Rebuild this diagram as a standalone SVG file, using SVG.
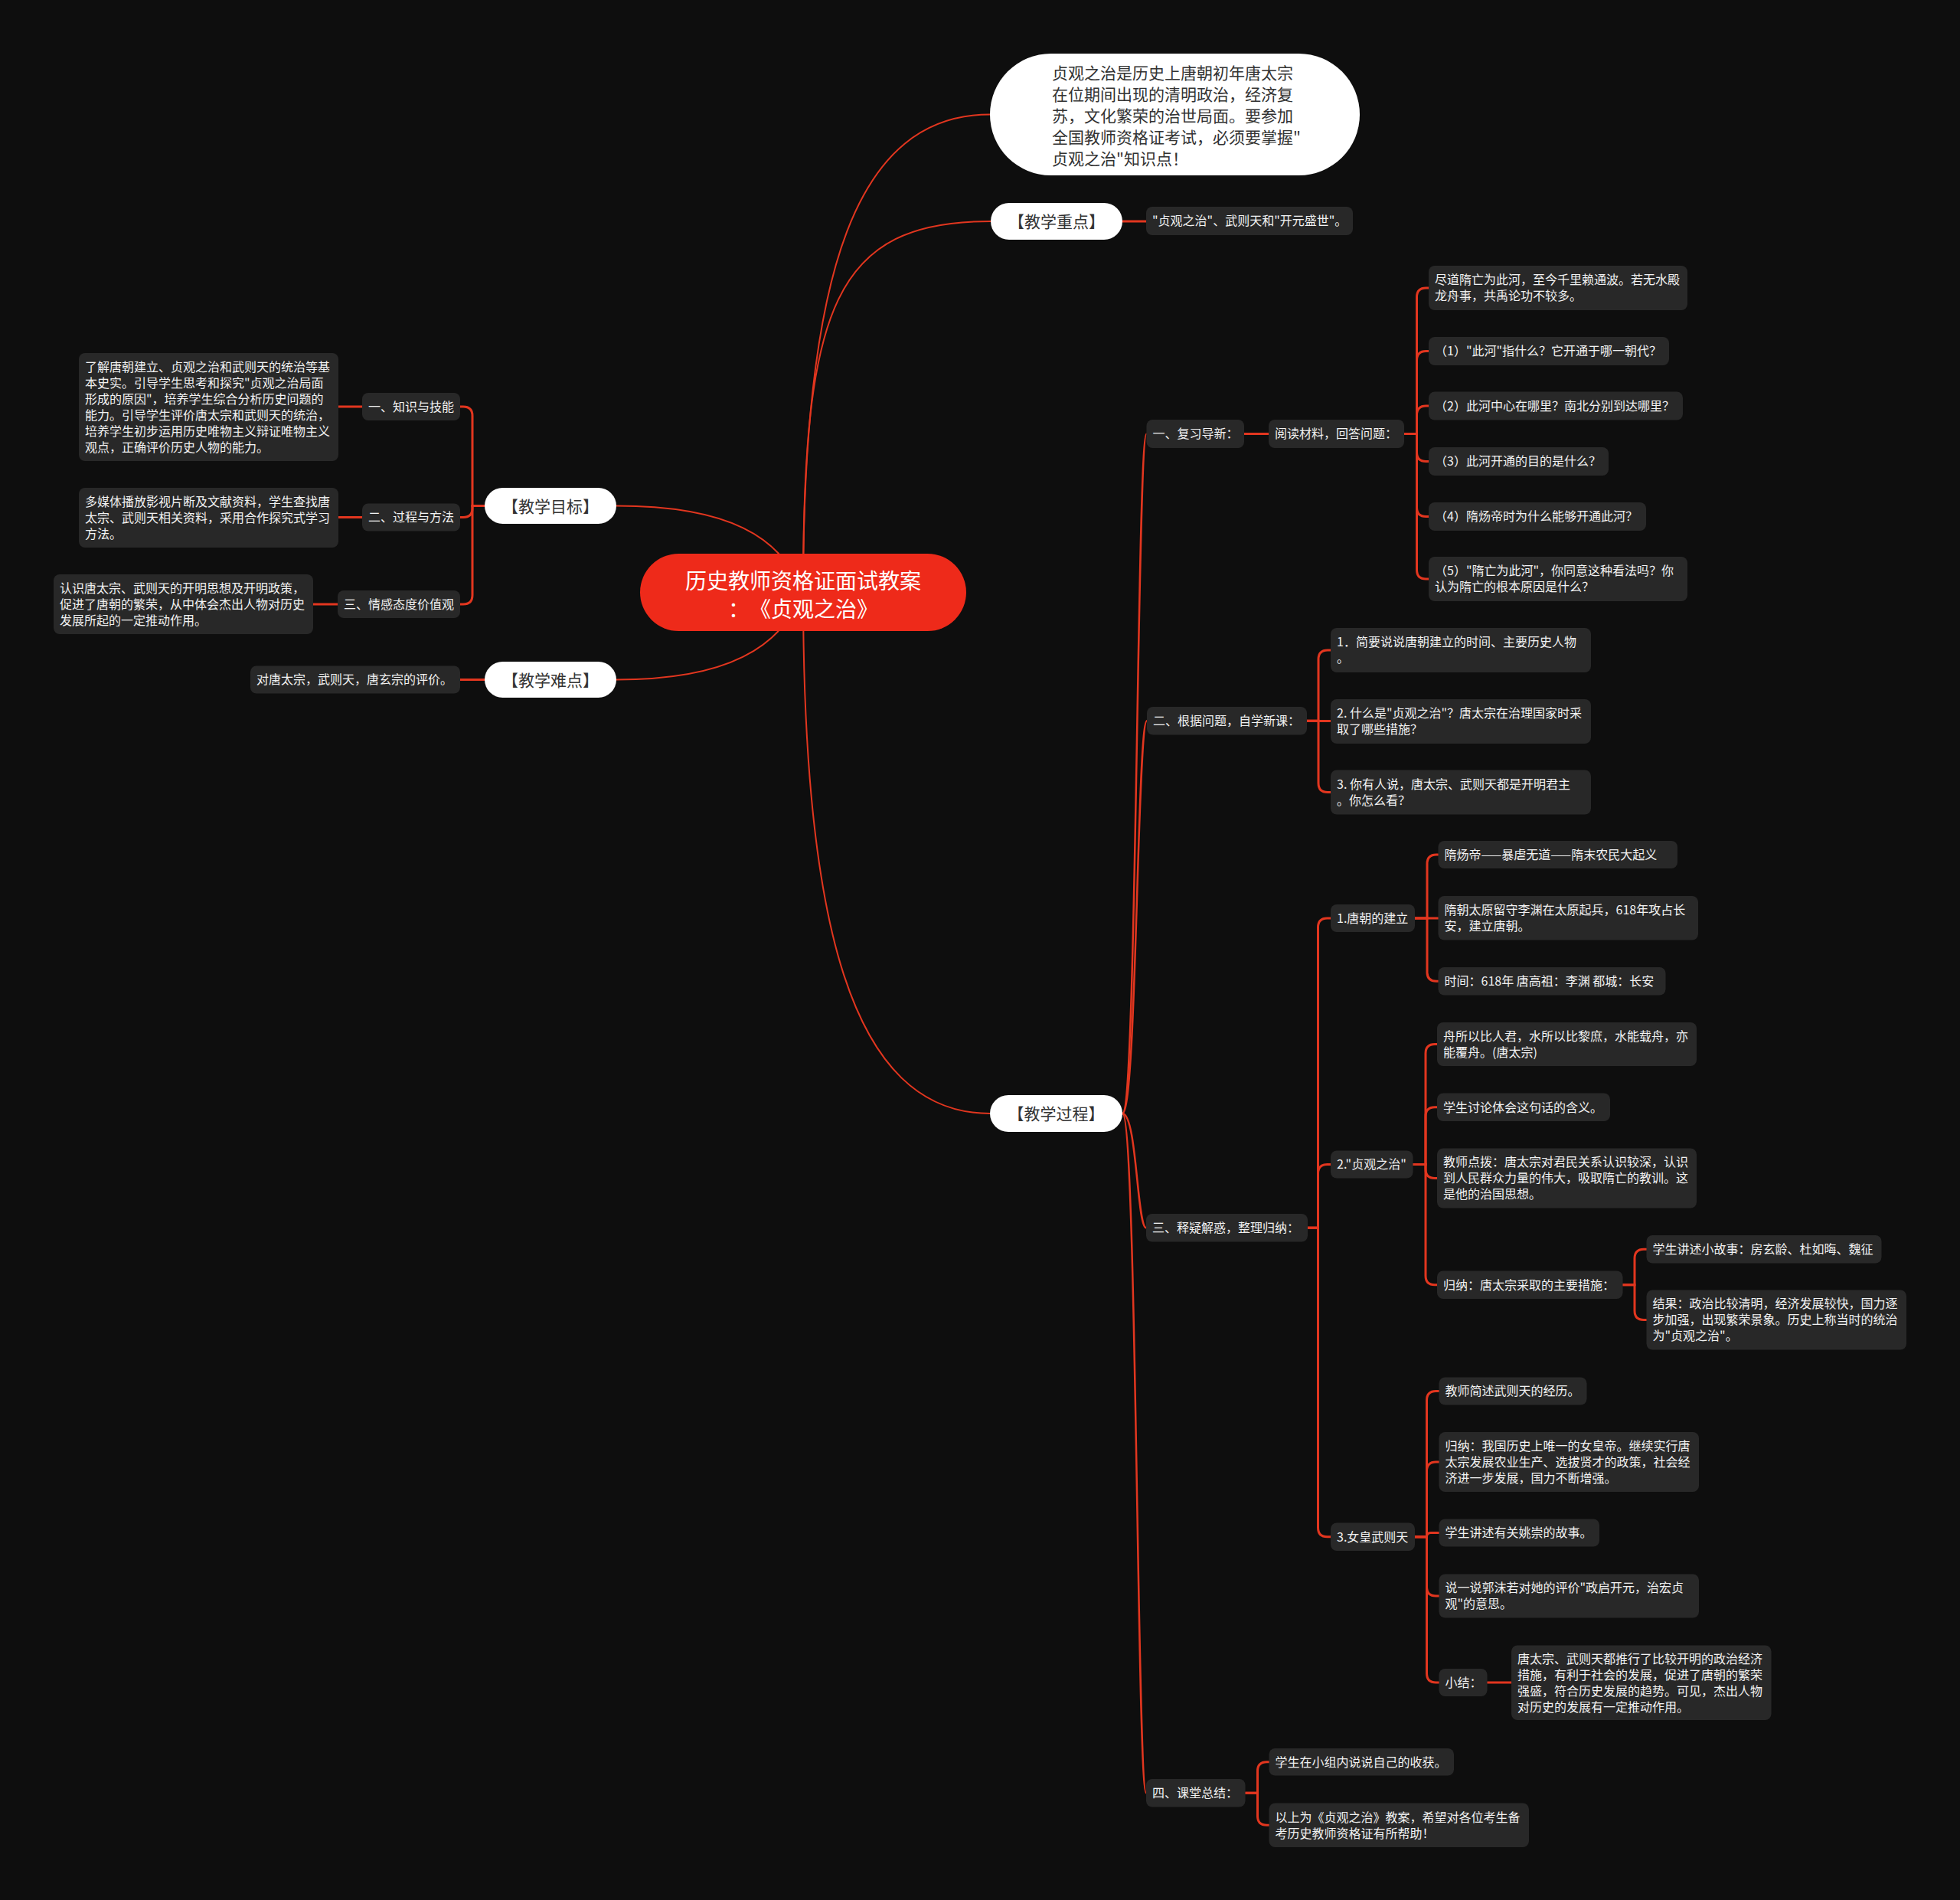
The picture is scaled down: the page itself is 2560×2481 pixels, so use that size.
<svg xmlns="http://www.w3.org/2000/svg" width="2560" height="2481" viewBox="0 0 2560 2481">
<style>
text{text-spacing-trim:space-all}
.bg{fill:#0e0e0e}
.box{fill:#282828}
.pill{fill:#ffffff}
.root{fill:#ee2a1a}
.t{font-family:"Noto Sans CJK SC","Noto Sans",sans-serif;font-size:16px;fill:#f2f2f2}
.pt{font-family:"Noto Sans CJK SC","Noto Sans",sans-serif;font-size:21px;fill:#333333}
.rt{font-family:"Noto Sans CJK SC","Noto Sans",sans-serif;font-size:28px;fill:#ffffff;text-anchor:middle}
.c{fill:none;stroke:#e2361f;stroke-width:3;stroke-linecap:round}
.c1{fill:none;stroke:#e2361f;stroke-width:2}
.c2{fill:none;stroke:#e2361f;stroke-width:2.5}
</style>
<rect class="bg" x="0" y="0" width="2560" height="2481"/>
<g id="connectors">
<path class="c1" d="M1049 773 C1049 350 1120 149.5 1293 149.5"/>
<path class="c1" d="M1049 773 C1049 400 1090 289 1294 289"/>
<path class="c1" d="M1049 773 C1049 1200 1110 1454 1293 1454"/>
<path class="c1" d="M1049 773 C1020 700 950 660.5 805 660.5"/>
<path class="c1" d="M1049 773 C1020 846 950 887.5 805 887.5"/>
<path class="c2" d="M1466 1454 C1485 1454 1485 566.5 1497.5 566.5"/>
<path class="c2" d="M1466 1454 C1485 1454 1485 941.25 1498 941.25"/>
<path class="c2" d="M1466 1454 C1485 1454 1485 1603.25 1497 1603.25"/>
<path class="c2" d="M1466 1454 C1485 1454 1485 2341.25 1497 2341.25"/>
<path class="c" d="M1466 289 H1497"/>
<path class="c" d="M1625 566.5 H1657"/>
<path class="c" d="M1942.5 2197 H1974"/>
<path class="c" d="M473 531 H442"/>
<path class="c" d="M473 675.5 H442"/>
<path class="c" d="M441 789 H409"/>
<path class="c" d="M633 887.5 H601"/>
<path class="c" d="M633 660.5 H617 V543 Q617 531 605 531 H601"/>
<path class="c" d="M633 660.5 H617 V663.5 Q617 675.5 605 675.5 H601"/>
<path class="c" d="M633 660.5 H617 V777 Q617 789 605 789 H601"/>
<path class="c" d="M1834 566.5 H1850.5 V388 Q1850.5 376 1862.5 376 H1866"/>
<path class="c" d="M1834 566.5 H1850.5 V470.5 Q1850.5 458.5 1862.5 458.5 H1866"/>
<path class="c" d="M1834 566.5 H1850.5 V542 Q1850.5 530 1862.5 530 H1866"/>
<path class="c" d="M1834 566.5 H1850.5 V590.5 Q1850.5 602.5 1862.5 602.5 H1866"/>
<path class="c" d="M1834 566.5 H1850.5 V662.5 Q1850.5 674.5 1862.5 674.5 H1866"/>
<path class="c" d="M1834 566.5 H1850.5 V744 Q1850.5 756 1862.5 756 H1866"/>
<path class="c" d="M1707 941.25 H1722 V861 Q1722 849 1734 849 H1738"/>
<path class="c" d="M1707 941.5 H1738"/>
<path class="c" d="M1707 941.25 H1722 V1022.5 Q1722 1034.5 1734 1034.5 H1738"/>
<path class="c" d="M1708 1603.25 H1721.5 V1211 Q1721.5 1199 1733.5 1199 H1738"/>
<path class="c" d="M1708 1603.25 H1721.5 V1532.5 Q1721.5 1520.5 1733.5 1520.5 H1738"/>
<path class="c" d="M1708 1603.25 H1721.5 V1994.75 Q1721.5 2006.75 1733.5 2006.75 H1738"/>
<path class="c" d="M1848 1199 H1864 V1128 Q1864 1116 1876 1116 H1878.5"/>
<path class="c" d="M1848 1199 H1878.5"/>
<path class="c" d="M1848 1199 H1864 V1269.25 Q1864 1281.25 1876 1281.25 H1878.5"/>
<path class="c" d="M1845.5 1520.5 H1862 V1375.5 Q1862 1363.5 1874 1363.5 H1877"/>
<path class="c" d="M1845.5 1520.5 H1862 V1457.75 Q1862 1445.75 1874 1445.75 H1877"/>
<path class="c" d="M1845.5 1520.5 H1862 V1526.5 Q1862 1538.5 1874 1538.5 H1877"/>
<path class="c" d="M1845.5 1520.5 H1862 V1665.75 Q1862 1677.75 1874 1677.75 H1877"/>
<path class="c" d="M2119.5 1677.75 H2135 V1643.25 Q2135 1631.25 2147 1631.25 H2150.5"/>
<path class="c" d="M2119.5 1677.75 H2135 V1711.5 Q2135 1723.5 2147 1723.5 H2150.5"/>
<path class="c" d="M1848 2006.75 H1863.5 V1828.5 Q1863.5 1816.5 1875.5 1816.5 H1879.5"/>
<path class="c" d="M1848 2006.75 H1863.5 V1921 Q1863.5 1909 1875.5 1909 H1879.5"/>
<path class="c" d="M1848 2006.75 H1863.5 Q1863.5 2001.5 1868.75 2001.5 H1879.5"/>
<path class="c" d="M1848 2006.75 H1863.5 V2072 Q1863.5 2084 1875.5 2084 H1879.5"/>
<path class="c" d="M1848 2006.75 H1863.5 V2185 Q1863.5 2197 1875.5 2197 H1879.5"/>
<path class="c" d="M1626.5 2341.25 H1642.5 V2312.75 Q1642.5 2300.75 1654.5 2300.75 H1657.5"/>
<path class="c" d="M1626.5 2341.25 H1642.5 V2371.25 Q1642.5 2383.25 1654.5 2383.25 H1657.5"/>
</g>
<g id="root"><rect class="root" x="836" y="723" width="426" height="101" rx="50.5"/><text class="rt" x="1049" y="768.5">历史教师资格证面试教案</text><text class="rt" x="1049" y="805.5">：《贞观之治》</text></g>
<g id="intro"><rect class="pill" x="1293" y="70" width="483" height="159" rx="79.5"/><text class="pt" x="1374" y="102.5"><tspan x="1374">贞观之治是历史上唐朝初年唐太宗</tspan><tspan x="1374" dy="28">在位期间出现的清明政治，经济复</tspan><tspan x="1374" dy="28">苏，文化繁荣的治世局面。要参加</tspan><tspan x="1374" dy="28">全国教师资格证考试，必须要掌握"</tspan><tspan x="1374" dy="28">贞观之治"知识点！</tspan></text></g>
<g id="zhongdian"><rect class="pill" x="1294" y="265" width="172" height="48" rx="24"/><text class="pt" x="1380" y="297" text-anchor="middle">【教学重点】</text></g>
<g id="zhongdian-text"><rect class="box" x="1497" y="270" width="270" height="37" rx="8"/><text class="t" x="1505" y="294.3">"贞观之治"、武则天和"开元盛世"。</text></g>
<g id="mubiao"><rect class="pill" x="633" y="637" width="172" height="47" rx="23.5"/><text class="pt" x="719" y="668.5" text-anchor="middle">【教学目标】</text></g>
<g id="nandian"><rect class="pill" x="633" y="864" width="172" height="47" rx="23.5"/><text class="pt" x="719" y="895.5" text-anchor="middle">【教学难点】</text></g>
<g id="guocheng"><rect class="pill" x="1293" y="1430" width="173" height="48" rx="24"/><text class="pt" x="1379.5" y="1462" text-anchor="middle">【教学过程】</text></g>
<g id="m1"><rect class="box" x="473" y="513" width="128" height="36" rx="8"/><text class="t" x="481" y="537">一、知识与技能</text></g>
<g id="m1t"><rect class="box" x="103" y="461" width="339" height="141" rx="8"/><text class="t" x="111" y="485"><tspan x="111">了解唐朝建立、贞观之治和武则天的统治等基</tspan><tspan x="111" dy="21">本史实。引导学生思考和探究"贞观之治局面</tspan><tspan x="111" dy="21">形成的原因"，培养学生综合分析历史问题的</tspan><tspan x="111" dy="21">能力。引导学生评价唐太宗和武则天的统治，</tspan><tspan x="111" dy="21">培养学生初步运用历史唯物主义辩证唯物主义</tspan><tspan x="111" dy="21">观点，正确评价历史人物的能力。</tspan></text></g>
<g id="m2"><rect class="box" x="473" y="657.5" width="128" height="36" rx="8"/><text class="t" x="481" y="681.3">二、过程与方法</text></g>
<g id="m2t"><rect class="box" x="103" y="637" width="339" height="78" rx="8"/><text class="t" x="111" y="661"><tspan x="111">多媒体播放影视片断及文献资料，学生查找唐</tspan><tspan x="111" dy="21">太宗、武则天相关资料，采用合作探究式学习</tspan><tspan x="111" dy="21">方法。</tspan></text></g>
<g id="m3"><rect class="box" x="441" y="771" width="160" height="36" rx="8"/><text class="t" x="449" y="794.8">三、情感态度价值观</text></g>
<g id="m3t"><rect class="box" x="70" y="750" width="339" height="78" rx="8"/><text class="t" x="78" y="773.8"><tspan x="78">认识唐太宗、武则天的开明思想及开明政策，</tspan><tspan x="78" dy="21">促进了唐朝的繁荣，从中体会杰出人物对历史</tspan><tspan x="78" dy="21">发展所起的一定推动作用。</tspan></text></g>
<g id="nd1"><rect class="box" x="327" y="869.5" width="274" height="36" rx="8"/><text class="t" x="335" y="893.3">对唐太宗，武则天，唐玄宗的评价。</text></g>
<g id="p1"><rect class="box" x="1497.5" y="548" width="127.5" height="37" rx="8"/><text class="t" x="1505.5" y="572.3">一、复习导新：</text></g>
<g id="p1a"><rect class="box" x="1657" y="548" width="177" height="37" rx="8"/><text class="t" x="1665" y="572.3">阅读材料，回答问题：</text></g>
<g id="p1a1"><rect class="box" x="1866" y="347" width="338" height="58" rx="8"/><text class="t" x="1874" y="371.3"><tspan x="1874">尽道隋亡为此河，至今千里赖通波。若无水殿</tspan><tspan x="1874" dy="21">龙舟事，共禹论功不较多。</tspan></text></g>
<g id="p1a2"><rect class="box" x="1866" y="440" width="314" height="37" rx="8"/><text class="t" x="1874" y="464.3">（1）"此河"指什么？它开通于哪一朝代？</text></g>
<g id="p1a3"><rect class="box" x="1866" y="511.5" width="332" height="37" rx="8"/><text class="t" x="1874" y="535.8">（2）此河中心在哪里？南北分别到达哪里？</text></g>
<g id="p1a4"><rect class="box" x="1866" y="584" width="235" height="37" rx="8"/><text class="t" x="1874" y="608.3">（3）此河开通的目的是什么？</text></g>
<g id="p1a5"><rect class="box" x="1866" y="656" width="284" height="37" rx="8"/><text class="t" x="1874" y="680.3">（4）隋炀帝时为什么能够开通此河？</text></g>
<g id="p1a6"><rect class="box" x="1866" y="727" width="338" height="58" rx="8"/><text class="t" x="1874" y="751.3"><tspan x="1874">（5）"隋亡为此河"，你同意这种看法吗？你</tspan><tspan x="1874" dy="21">认为隋亡的根本原因是什么？</tspan></text></g>
<g id="p2"><rect class="box" x="1498" y="923" width="209" height="36.5" rx="8"/><text class="t" x="1506" y="947">二、根据问题，自学新课：</text></g>
<g id="p2a"><rect class="box" x="1738" y="820" width="340" height="58" rx="8"/><text class="t" x="1746" y="844.3"><tspan x="1746">1．简要说说唐朝建立的时间、主要历史人物</tspan><tspan x="1746" dy="21">。</tspan></text></g>
<g id="p2b"><rect class="box" x="1738" y="913" width="340" height="58" rx="8"/><text class="t" x="1746" y="937.3"><tspan x="1746">2. 什么是"贞观之治"？唐太宗在治理国家时采</tspan><tspan x="1746" dy="21">取了哪些措施？</tspan></text></g>
<g id="p2c"><rect class="box" x="1738" y="1005.5" width="340" height="58" rx="8"/><text class="t" x="1746" y="1029.8"><tspan x="1746">3. 你有人说，唐太宗、武则天都是开明君主</tspan><tspan x="1746" dy="21">。你怎么看？</tspan></text></g>
<g id="p3"><rect class="box" x="1497" y="1585" width="211" height="36.5" rx="8"/><text class="t" x="1505" y="1609">三、释疑解惑，整理归纳：</text></g>
<g id="p3a"><rect class="box" x="1738" y="1181" width="110" height="36" rx="8"/><text class="t" x="1746" y="1204.8">1.唐朝的建立</text></g>
<g id="p3a1"><rect class="box" x="1878.5" y="1098" width="312.5" height="36" rx="8"/><text class="t" x="1886.5" y="1121.8">隋炀帝——暴虐无道——隋末农民大起义</text></g>
<g id="p3a2"><rect class="box" x="1878.5" y="1170" width="339.5" height="57.5" rx="8"/><text class="t" x="1886.5" y="1194"><tspan x="1886.5">隋朝太原留守李渊在太原起兵，618年攻占长</tspan><tspan x="1886.5" dy="21">安，建立唐朝。</tspan></text></g>
<g id="p3a3"><rect class="box" x="1878.5" y="1263" width="297" height="36.5" rx="8"/><text class="t" x="1886.5" y="1287">时间：618年 唐高祖：李渊 都城：长安</text></g>
<g id="p3b"><rect class="box" x="1738" y="1502.5" width="107.5" height="36" rx="8"/><text class="t" x="1746" y="1526.3">2."贞观之治"</text></g>
<g id="p3b1"><rect class="box" x="1877" y="1335" width="339" height="57" rx="8"/><text class="t" x="1885" y="1358.8"><tspan x="1885">舟所以比人君，水所以比黎庶，水能载舟，亦</tspan><tspan x="1885" dy="21">能覆舟。(唐太宗)</tspan></text></g>
<g id="p3b2"><rect class="box" x="1877" y="1427.5" width="226" height="36.5" rx="8"/><text class="t" x="1885" y="1451.5">学生讨论体会这句话的含义。</text></g>
<g id="p3b3"><rect class="box" x="1877" y="1499.5" width="339" height="78" rx="8"/><text class="t" x="1885" y="1523.3"><tspan x="1885">教师点拨：唐太宗对君民关系认识较深，认识</tspan><tspan x="1885" dy="21">到人民群众力量的伟大，吸取隋亡的教训。这</tspan><tspan x="1885" dy="21">是他的治国思想。</tspan></text></g>
<g id="p3b4"><rect class="box" x="1877" y="1659.5" width="242.5" height="36.5" rx="8"/><text class="t" x="1885" y="1683.5">归纳：唐太宗采取的主要措施：</text></g>
<g id="p3b4a"><rect class="box" x="2150.5" y="1613" width="307" height="36.5" rx="8"/><text class="t" x="2158.5" y="1637">学生讲述小故事：房玄龄、杜如晦、魏征</text></g>
<g id="p3b4b"><rect class="box" x="2150.5" y="1684.5" width="339.5" height="78" rx="8"/><text class="t" x="2158.5" y="1708.3"><tspan x="2158.5">结果：政治比较清明，经济发展较快，国力逐</tspan><tspan x="2158.5" dy="21">步加强，出现繁荣景象。历史上称当时的统治</tspan><tspan x="2158.5" dy="21">为"贞观之治"。</tspan></text></g>
<g id="p3c"><rect class="box" x="1738" y="1988.5" width="110" height="36.5" rx="8"/><text class="t" x="1746" y="2012.5">3.女皇武则天</text></g>
<g id="p3c1"><rect class="box" x="1879.5" y="1798.5" width="193" height="36" rx="8"/><text class="t" x="1887.5" y="1822.3">教师简述武则天的经历。</text></g>
<g id="p3c2"><rect class="box" x="1879.5" y="1870" width="339.5" height="78" rx="8"/><text class="t" x="1887.5" y="1893.8"><tspan x="1887.5">归纳：我国历史上唯一的女皇帝。继续实行唐</tspan><tspan x="1887.5" dy="21">太宗发展农业生产、选拔贤才的政策，社会经</tspan><tspan x="1887.5" dy="21">济进一步发展，国力不断增强。</tspan></text></g>
<g id="p3c3"><rect class="box" x="1879.5" y="1983.5" width="209.5" height="36" rx="8"/><text class="t" x="1887.5" y="2007.3">学生讲述有关姚崇的故事。</text></g>
<g id="p3c4"><rect class="box" x="1879.5" y="2055.5" width="339.5" height="57" rx="8"/><text class="t" x="1887.5" y="2079.3"><tspan x="1887.5">说一说郭沫若对她的评价"政启开元，治宏贞</tspan><tspan x="1887.5" dy="21">观"的意思。</tspan></text></g>
<g id="p3c5"><rect class="box" x="1879.5" y="2179" width="63" height="36" rx="8"/><text class="t" x="1887.5" y="2202.8">小结：</text></g>
<g id="p3c5a"><rect class="box" x="1974" y="2148.5" width="339.5" height="97.5" rx="8"/><text class="t" x="1982" y="2171.6"><tspan x="1982">唐太宗、武则天都推行了比较开明的政治经济</tspan><tspan x="1982" dy="21">措施，有利于社会的发展，促进了唐朝的繁荣</tspan><tspan x="1982" dy="21">强盛，符合历史发展的趋势。可见，杰出人物</tspan><tspan x="1982" dy="21">对历史的发展有一定推动作用。</tspan></text></g>
<g id="p4"><rect class="box" x="1497" y="2323" width="129.5" height="36.5" rx="8"/><text class="t" x="1505" y="2347">四、课堂总结：</text></g>
<g id="p4a"><rect class="box" x="1657.5" y="2283" width="241.5" height="35.5" rx="8"/><text class="t" x="1665.5" y="2306.5">学生在小组内说说自己的收获。</text></g>
<g id="p4b"><rect class="box" x="1657.5" y="2354.5" width="339.5" height="57.5" rx="8"/><text class="t" x="1665.5" y="2378.5"><tspan x="1665.5">以上为《贞观之治》教案，希望对各位考生备</tspan><tspan x="1665.5" dy="21">考历史教师资格证有所帮助！</tspan></text></g>
</svg>
